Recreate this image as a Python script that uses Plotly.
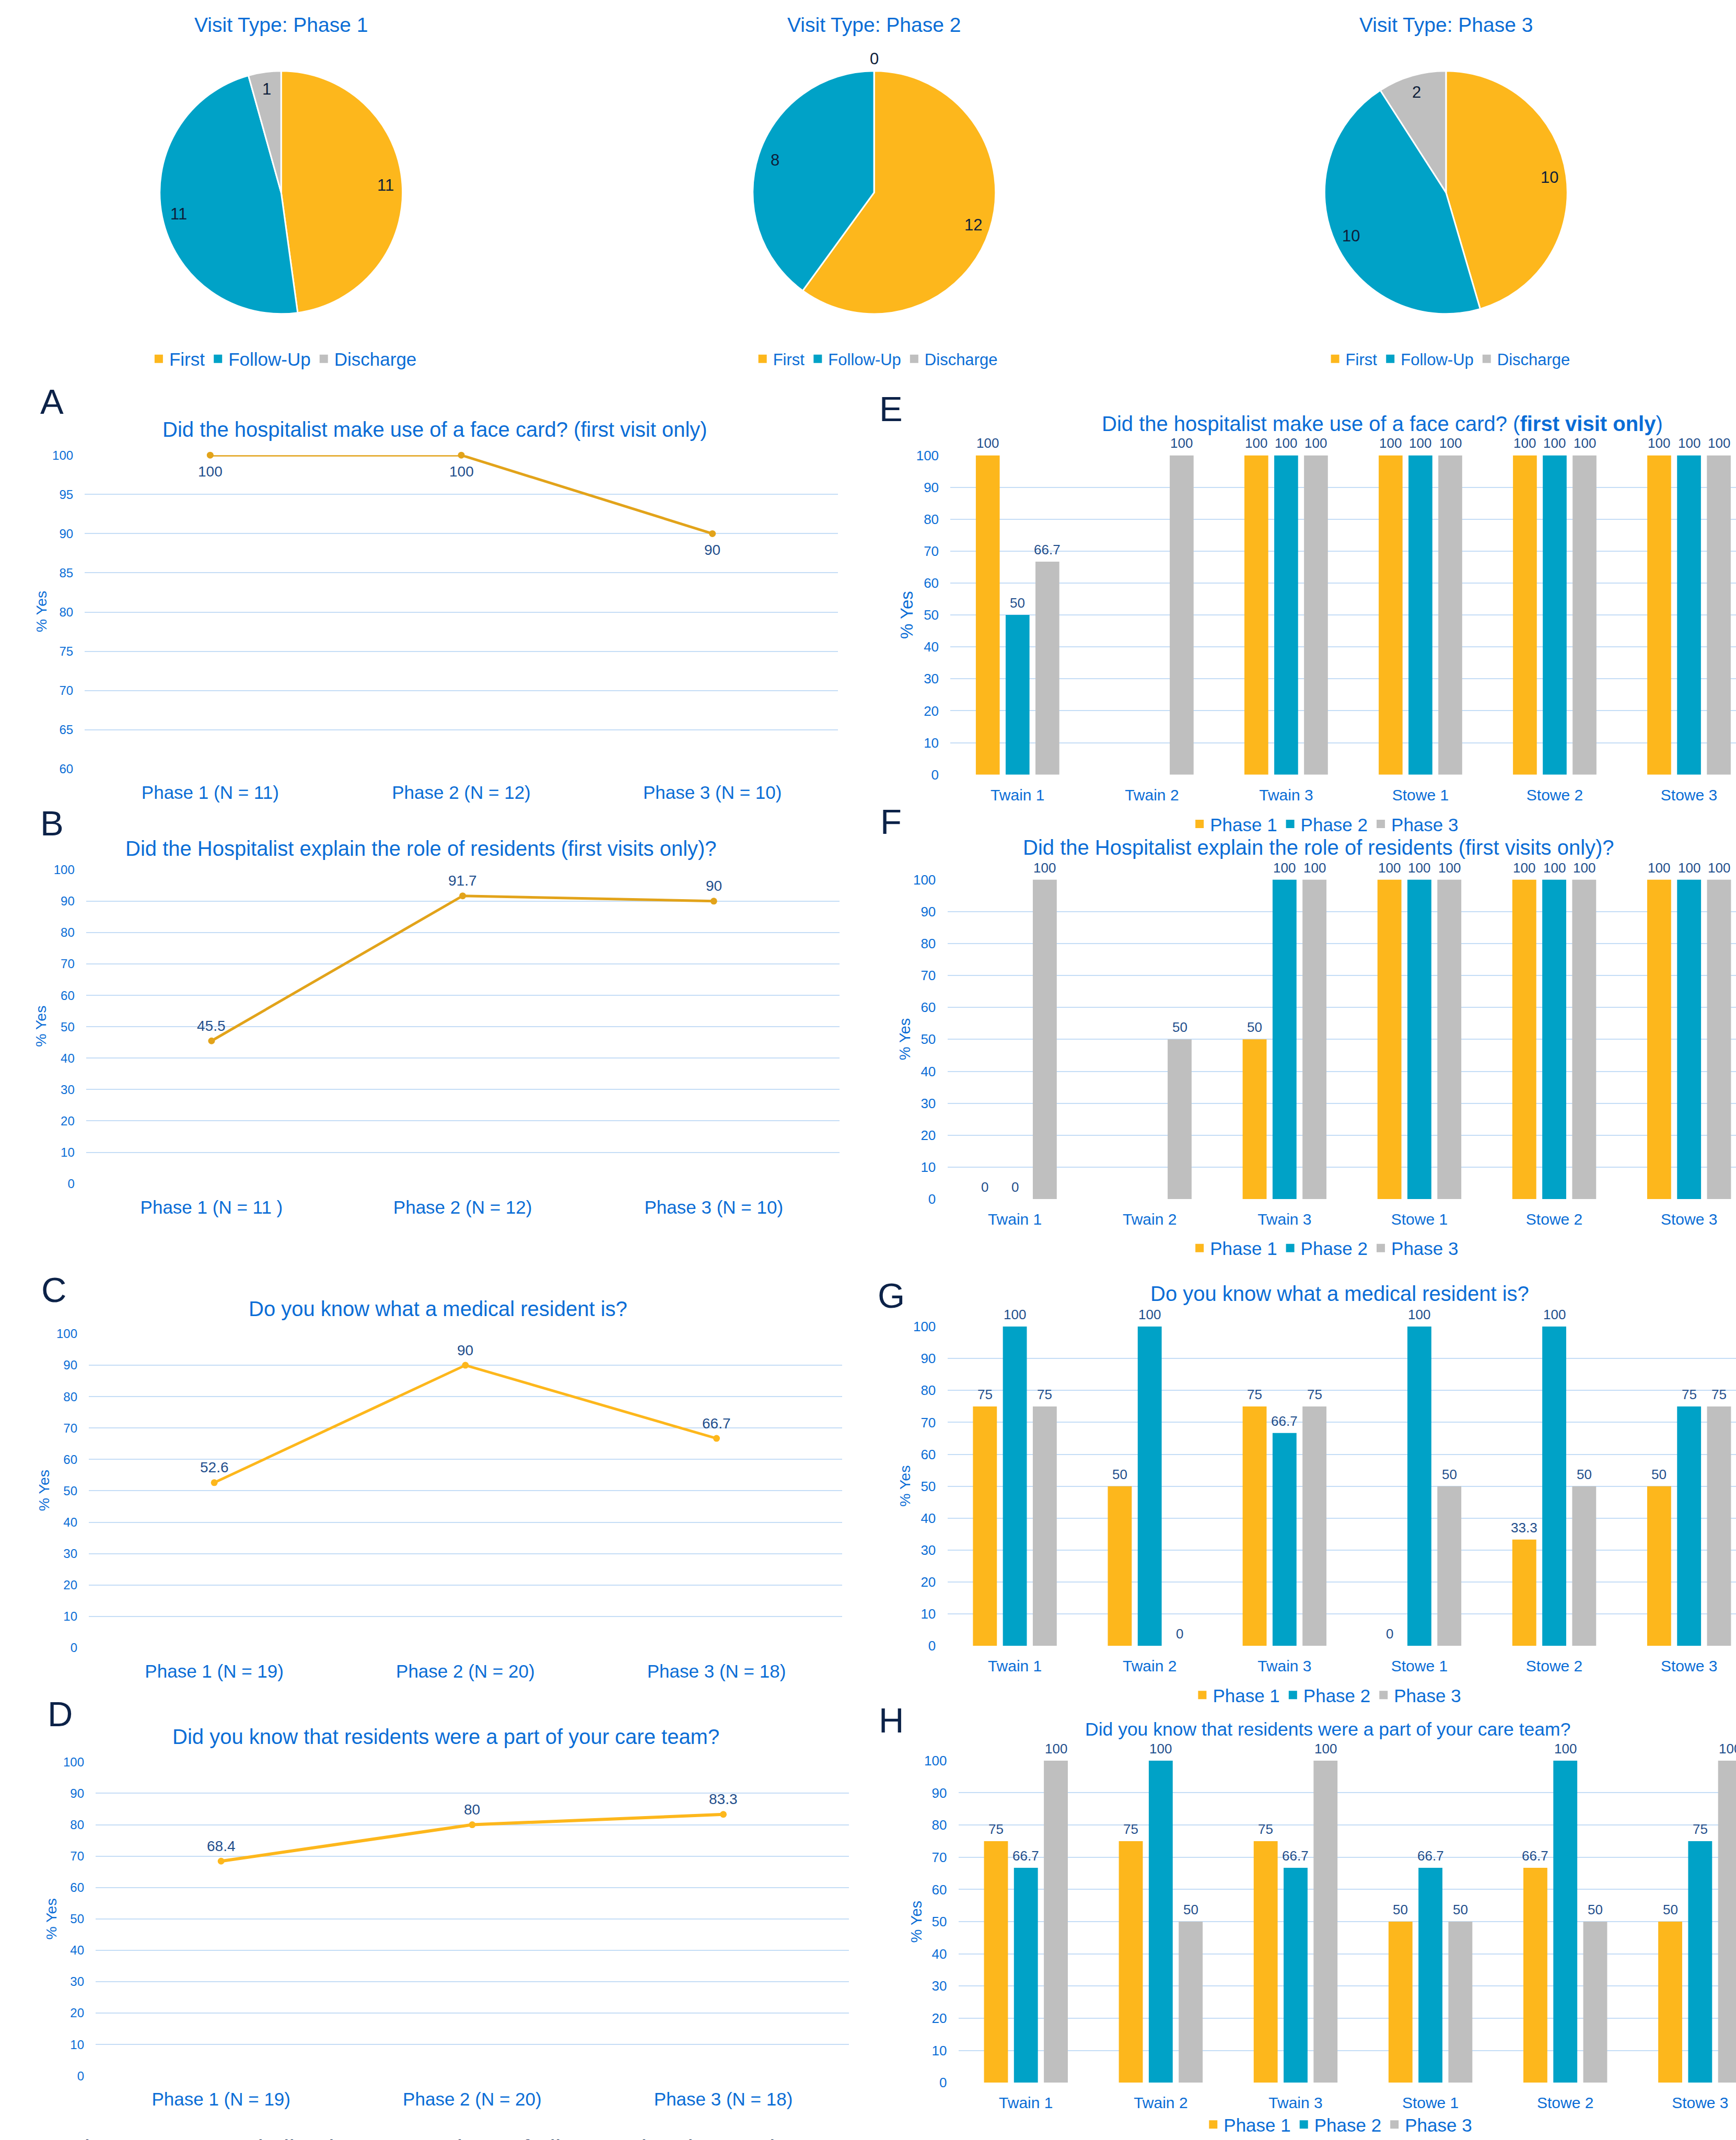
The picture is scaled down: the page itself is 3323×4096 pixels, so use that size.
import math
import plotly.graph_objects as go

# ---------------- data ----------------
visit_types = ["First", "Follow-Up", "Discharge"]
pie_phase1 = [11, 11, 1]
pie_phase2 = [12, 8, 0]
pie_phase3 = [10, 10, 2]
pie_titles = ["Visit Type: Phase 1", "Visit Type: Phase 2", "Visit Type: Phase 3"]

cats_A = ["Phase 1 (N = 11)", "Phase 2 (N = 12)", "Phase 3 (N = 10)"]
cats_B = ["Phase 1 (N = 11 )", "Phase 2 (N = 12)", "Phase 3 (N = 10)"]
cats_CD = ["Phase 1 (N = 19)", "Phase 2 (N = 20)", "Phase 3 (N = 18)"]
line_A = [100, 100, 90]
line_B = [45.5, 91.7, 90]
line_C = [52.6, 90, 66.7]
line_D = [68.4, 80, 83.3]

teams = ["Twain 1", "Twain 2", "Twain 3", "Stowe 1", "Stowe 2", "Stowe 3"]
phase_names = ["Phase 1", "Phase 2", "Phase 3"]
E_phase1 = [100, None, 100, 100, 100, 100]
E_phase2 = [50, None, 100, 100, 100, 100]
E_phase3 = [66.7, 100, 100, 100, 100, 100]
F_phase1 = [0, None, 50, 100, 100, 100]
F_phase2 = [0, None, 100, 100, 100, 100]
F_phase3 = [100, 50, 100, 100, 100, 100]
G_phase1 = [75, 50, 75, 0, 33.3, 50]
G_phase2 = [100, 100, 66.7, 100, 100, 75]
G_phase3 = [75, 0, 75, 50, 50, 75]
H_phase1 = [75, 75, 75, 50, 66.7, 50]
H_phase2 = [66.7, 100, 66.7, 66.7, 100, 75]
H_phase3 = [100, 50, 100, 50, 50, 100]

title_A = "Did the hospitalist make use of a face card? (first visit only)"
title_B = "Did the Hospitalist explain the role of residents (first visits only)?"
title_C = "Do you know what a medical resident is?"
title_D = "Did you know that residents were a part of your care team?"
title_E = "Did the hospitalist make use of a face card? (<b>first visit only</b>)"
title_F = title_B
title_G = title_C
title_H = title_D
y_title = "% Yes"
caption = "Figure: A-D Hospitalist data comparison of all teams by phase. Figure"

# ---------------- styling ----------------
W, H = 3323, 4096
SW, SH = 1272.0, 1568.0  # layout measured on a 1272x1568 grid
def fx(x):
    return x / SW
def fy(y):
    return 1 - y / SH

FONT = "Liberation Sans, Arial, sans-serif"
BLUE = "#0A6DD6"
LBL = "#1F4E8C"
NAVY = "#0C2248"
GRID = "#C5DDF6"
GOLD = "#FDB71C"
GOLD_DARK = "#E2A31A"
TEAL = "#00A2C7"
GREY = "#BFBFBF"
PHASE_COLORS = [GOLD, TEAL, GREY]
BARGAP = 0.334
BARGROUPGAP = 0.2

fig = go.Figure()
annotations = []

def ann(text, x, y, size, color=BLUE, angle=0, family=FONT, xanchor="center", yanchor="middle"):
    annotations.append(dict(text=text, x=fx(x), y=fy(y), xref="paper", yref="paper",
                            showarrow=False, xanchor=xanchor, yanchor=yanchor,
                            textangle=angle, font=dict(size=size, color=color, family=family)))

def data_label(text, x, y, xa, ya, shift, size):
    # value label anchored to a data point through the axis scales
    annotations.append(dict(text=text, x=x, y=y, xref=xa, yref=ya, yshift=shift,
                            showarrow=False, xanchor="center", yanchor="middle",
                            font=dict(size=size, color=LBL, family=FONT)))

def fmt(v):
    return "" if v is None else f"{v:g}"

def legend_cfg(x, y, size, yanchor="middle"):
    return dict(orientation="h", x=fx(x), y=fy(y) if y is not None else 0, xanchor="center",
                yanchor=yanchor, font=dict(size=size, color=BLUE, family=FONT),
                bgcolor="rgba(0,0,0,0)", traceorder="normal", itemwidth=30)

def legend_keys(names, colors, lg, xa, ya):
    # legend swatches (no data drawn)
    for nm, col in zip(names, colors):
        fig.add_trace(go.Scatter(x=[None], y=[None], mode="markers", name=nm,
                                 marker=dict(symbol="square", size=16, color=col),
                                 legend=lg, xaxis=xa, yaxis=ya, hoverinfo="skip",
                                 showlegend=True))

legends = {}
axis_layout = {}

# ---------------- line charts A-D ----------------
line_specs = [
    (line_A, cats_A, (62, 614), (333.5, 563.5), [60, 100], 5, -31, GOLD_DARK, 5,
     title_A, (318.5, 314.5), "A", (38, 294), (30.5, 448)),
    (line_B, cats_B, (63, 615), (637.3, 867.3), [0, 100], 10, 29, GOLD_DARK, 5,
     title_B, (308.5, 621.5), "B", (38, 603), (30, 752)),
    (line_C, cats_CD, (65, 617), (977.3, 1207.4), [0, 100], 10, 29, GOLD, 5,
     title_C, (321, 959), "C", (39.6, 945), (32, 1092)),
    (line_D, cats_CD, (70, 622), (1291, 1521), [0, 100], 10, 29, GOLD, 6,
     title_D, (326.6, 1272.3), "D", (44, 1256), (37.4, 1406)),
]

idx = 0
for (vals, cats, xd, yd, yr, dt, lshift, col, lw, ttl, tp, letter, lp, yp) in line_specs:
    idx += 1
    xa = "x" if idx == 1 else f"x{idx}"
    ya = "y" if idx == 1 else f"y{idx}"
    fig.add_trace(go.Scatter(
        x=cats, y=vals, mode="lines+markers",
        line=dict(color=col, width=lw), marker=dict(color=col, size=13),
        xaxis=xa, yaxis=ya, showlegend=False, cliponaxis=False,
    ))
    for c, v in zip(cats, vals):
        data_label(fmt(v), c, v, xa, ya, lshift, 28)
    axis_layout["xaxis" if idx == 1 else f"xaxis{idx}"] = dict(
        domain=[fx(xd[0]), fx(xd[1])], anchor=ya, type="category", range=[-0.5, 2.5],
        showgrid=False, zeroline=False, showline=False, ticks="outside", ticklen=14,
        tickcolor="rgba(0,0,0,0)", tickfont=dict(size=35, color=BLUE, family=FONT),
        fixedrange=True, automargin=False)
    axis_layout["yaxis" if idx == 1 else f"yaxis{idx}"] = dict(
        domain=[fy(yd[1]), fy(yd[0])], anchor=xa, range=yr, dtick=dt, tick0=0,
        showgrid=True, gridcolor=GRID, gridwidth=2, zeroline=False, showline=False,
        ticks="outside", ticklen=16, tickcolor="rgba(0,0,0,0)",
        tickfont=dict(size=24, color=BLUE, family=FONT), fixedrange=True, automargin=False)
    ann(ttl, tp[0], tp[1], 40)
    ann(letter, lp[0], lp[1], 67, color=NAVY)
    ann(y_title, yp[0], yp[1], 28.5, angle=-90)

# ---------------- pies ----------------
pie_specs = [
    (pie_phase1, 206.0, 141.0, 89.0, "legend", 35, (208.0, 263.0)),
    (pie_phase2, 640.5, 141.0, 89.0, "legend2", 31, (642.0, 263.0)),
    (pie_phase3, 1059.5, 141.0, 89.0, "legend3", 31, (1061.5, 263.0)),
]
for (vals, cx, cy, r, lg, lsize, lpos), ttl in zip(pie_specs, pie_titles):
    fig.add_trace(go.Pie(
        labels=visit_types, values=vals, sort=False, direction="clockwise", rotation=0,
        marker=dict(colors=PHASE_COLORS, line=dict(color="white", width=3)),
        textinfo="none", hoverinfo="label+value",
        domain=dict(x=[fx(cx - r), fx(cx + r)], y=[fy(cy + r), fy(cy - r)]),
        showlegend=False,
    ))
    legend_keys(visit_types, PHASE_COLORS, lg, "x", "y")
    legends[lg] = legend_cfg(lpos[0], lpos[1], lsize)
    ann(ttl, cx, 18, 39)
    # value labels placed along each slice's mid angle (clockwise from 12 o'clock)
    total = float(sum(vals))
    cum = 0.0
    for v in vals:
        frac = v / total
        mid = (cum + frac / 2) * 2 * math.pi
        rr = r * (1.1 if v == 0 else 0.86)
        ann(str(v), cx + rr * math.sin(mid), cy - rr * math.cos(mid), 31, color="#0E1E3A")
        cum += frac

# ---------------- bar charts E-H ----------------
bar_specs = [
    ((E_phase1, E_phase2, E_phase3), (696.4, 1272), 5.35, (333.6, 567.6), title_E, (1013, 310.6), 40,
     "E", (653, 299.6), (664.3, 450.4), 33, "legend4", (971, 603.8)),
    ((F_phase1, F_phase2, F_phase3), (694.2, 1272), 5.348, (644.5, 878.6), title_F, (966, 621), 40,
     "F", (653, 602), (663, 761.5), 29, "legend5", (971, 914.5)),
    ((G_phase1, G_phase2, G_phase3), (694.2, 1272), 5.348, (972, 1206), title_G, (981.7, 948), 40,
     "G", (653, 949), (663, 1089), 28.5, "legend6", (973, 1242)),
    ((H_phase1, H_phase2, H_phase3), (702.3, 1272), 5.266, (1290, 1526), title_H, (972.8, 1267), 35.5,
     "H", (653, 1260.6), (671.6, 1408), 29, "legend7", (981, None)),
]
slot = (1 - BARGAP) / 3.0
for (series, xd, xr, yd, ttl, tp, tsize, letter, lp, yp, ysize, lg, lgp) in bar_specs:
    idx += 1
    xa = f"x{idx}"
    ya = f"y{idx}"
    for j, (name, vals, col) in enumerate(zip(phase_names, series, PHASE_COLORS)):
        fig.add_trace(go.Bar(
            x=teams, y=vals, name=name, marker=dict(color=col, line=dict(width=0)),
            cliponaxis=False, xaxis=xa, yaxis=ya, showlegend=False,
        ))
        for i, v in enumerate(vals):
            if v is not None:
                data_label(fmt(v), i + (j - 1) * slot, v, xa, ya, 23, 26)
    legend_keys(phase_names, PHASE_COLORS, lg, xa, ya)
    axis_layout[f"xaxis{idx}"] = dict(
        domain=[fx(xd[0]), fx(xd[1])], anchor=ya, type="category", range=[-0.5, xr],
        showgrid=False, zeroline=False, showline=False, ticks="outside", ticklen=12,
        tickcolor="rgba(0,0,0,0)", tickfont=dict(size=30, color=BLUE, family=FONT),
        fixedrange=True, automargin=False)
    axis_layout[f"yaxis{idx}"] = dict(
        domain=[fy(yd[1]), fy(yd[0])], anchor=xa, range=[0, 100], dtick=10, tick0=0,
        showgrid=True, gridcolor=GRID, gridwidth=2, zeroline=False, showline=False,
        ticks="outside", ticklen=16, tickcolor="rgba(0,0,0,0)",
        tickfont=dict(size=26, color=BLUE, family=FONT), fixedrange=True, automargin=False)
    if lgp[1] is None:
        legends[lg] = legend_cfg(lgp[0], None, 35, yanchor="bottom")
    else:
        legends[lg] = legend_cfg(lgp[0], lgp[1], 35)
    ann(ttl, tp[0], tp[1], tsize)
    ann(letter, lp[0], lp[1], 67, color=NAVY)
    ann(y_title, yp[0], yp[1], ysize, angle=-90)

# caption line at the very bottom (only its top is visible in the original)
ann(caption, 50, 1563.5, 47, color=NAVY, xanchor="left", yanchor="top")

fig.update_layout(
    width=W, height=H, margin=dict(l=0, r=0, t=0, b=0, pad=0),
    paper_bgcolor="white", plot_bgcolor="white",
    barmode="group", bargap=BARGAP, bargroupgap=BARGROUPGAP,
    font=dict(family=FONT, color=BLUE),
    annotations=annotations, showlegend=True,
    **axis_layout, **legends,
)

fig.write_html(
    "out.html",
    config={"displayModeBar": False},
    post_script="document.body.style.margin='0px';document.body.style.overflow='hidden';",
)
